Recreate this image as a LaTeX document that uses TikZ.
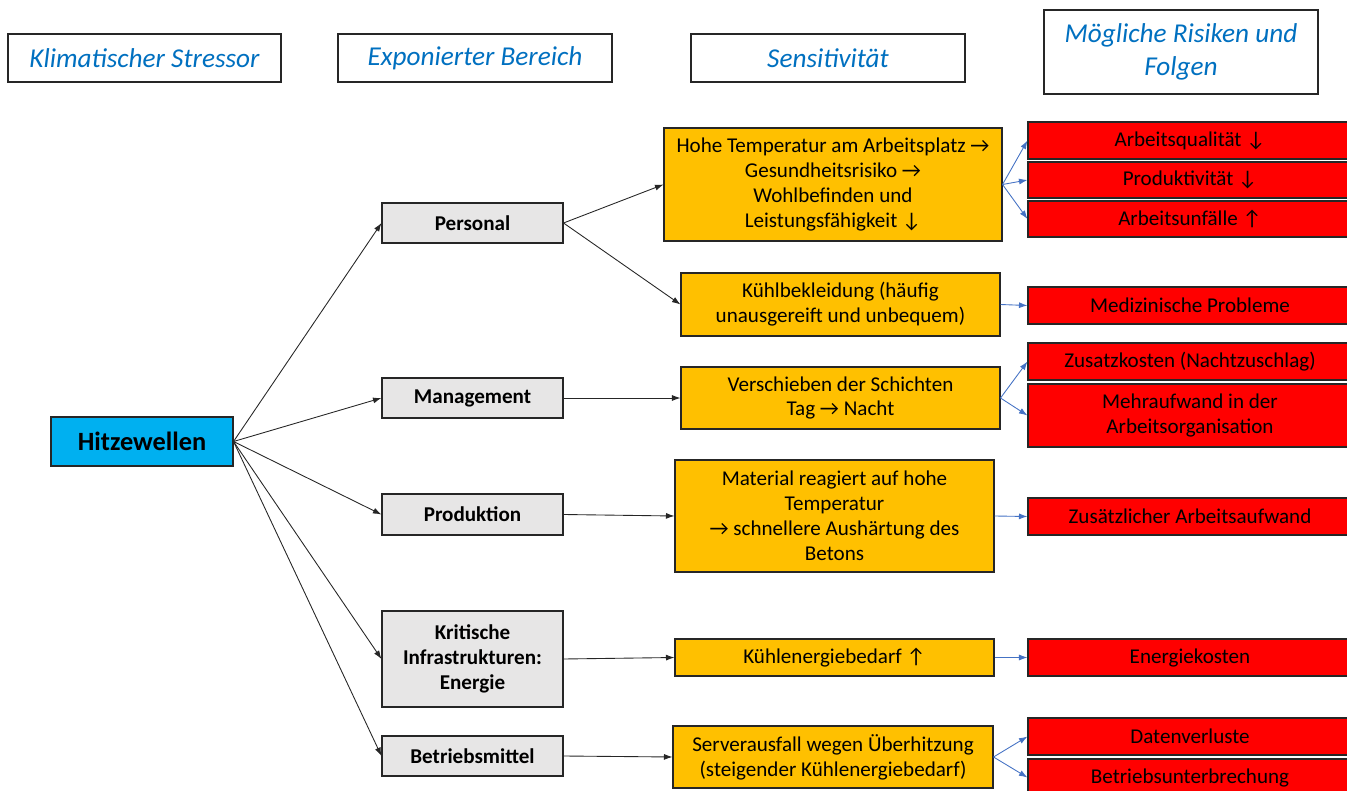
\documentclass[tikz,border=0pt]{standalone}
\usepackage{fontspec}
\setmainfont{Carlito}
\usetikzlibrary{arrows.meta}

\definecolor{kopfblau}{HTML}{0070C0}
\definecolor{hitze}{HTML}{00B0F0}
\definecolor{grau}{HTML}{E7E6E6}
\definecolor{orange}{HTML}{FFC000}
\definecolor{rot}{HTML}{FF0000}
\definecolor{pfeilblau}{HTML}{4472C4}

\tikzset{
  bw/.style={minimum width=#1*0.02cm},
  bh/.style={minimum height=#1*0.02cm},
  kasten/.style={draw=black!85, line width=0.6pt, inner sep=0, align=center},
  kopf/.style={kasten, fill=white, text=kopfblau, font=\fontsize{15.5}{18.7}\selectfont\itshape},
  stressor/.style={kasten, fill=hitze, font=\fontsize{15}{18}\selectfont\bfseries},
  bereich/.style={kasten, fill=grau, font=\fontsize{12}{14.2}\selectfont\bfseries},
  sens/.style={kasten, fill=orange, font=\fontsize{12}{14.2}\selectfont},
  risiko/.style={kasten, fill=rot, font=\fontsize{12}{14.2}\selectfont},
  pfeil/.style={-{Latex[length=1.7mm,width=1.2mm]}, line width=0.5pt, black!85},
  bpfeil/.style={-{Latex[length=1.7mm,width=1.2mm]}, line width=0.5pt, pfeilblau}
}

\begin{document}
\begin{tikzpicture}[x=0.02cm,y=-0.02cm]

  \useasboundingbox (0,0) rectangle (1347,791);

  % Kopfzeile
  \node (k1) at (144.5,58) [kopf,bw=273,bh=48]{Klimatischer Stressor};
  \node (k2) at (475,58)   [kopf,bw=274,bh=48]{Exponierter Bereich};
  \node (k3) at (828,58)   [kopf,bw=274,bh=48]{Sensitivität};
  \node (k4) at (1181,52)  [kopf,bw=274,bh=84]{Mögliche Risiken und\\Folgen};

  \node (hz) at (142,441.5) [stressor,bw=182,bh=49]{Hitzewellen};

  % exponierte Bereiche
  \node (pers) at (472.5,223)   [bereich,bw=181,bh=40]{Personal};
  \node (man)  at (472.5,398)   [bereich,bw=181,bh=40]{Management};
  \node (prod) at (472.5,514.5) [bereich,bw=181,bh=41]{Produktion};
  \node (krit) at (472.5,659)   [bereich,bw=181,bh=96]{Kritische\\Infrastrukturen:\\Energie};
  \node (betr) at (472.5,756)   [bereich,bw=181,bh=40]{Betriebsmittel};

  % Sensitivitaet
  \node (o1) at (833,184.5) [sens,bw=338,bh=113]{Hohe Temperatur am Arbeitsplatz →\\Gesundheitsrisiko →\\Wohlbefinden und\\Leistungsfähigkeit ↓};
  \node (o2) at (840.5,304.5) [sens,bw=319,bh=63]{Kühlbekleidung (häufig\\unausgereift und unbequem)};
  \node (o3) at (840.5,398)   [sens,bw=319,bh=62]{Verschieben der Schichten\\Tag → Nacht};
  \node (o4) at (834.5,516)   [sens,bw=319,bh=112]{Material reagiert auf hohe\\Temperatur\\→ schnellere Aushärtung des\\Betons};
  \node (o5) at (834.5,657.5) [sens,bw=319,bh=37]{Kühlenergiebedarf ↑};
  \node (o6) at (833,757)     [sens,bw=320,bh=62]{Serverausfall wegen Überhitzung\\(steigender Kühlenergiebedarf)};

  % Risiken
  \node (r1)  at (1190,140.5) [risiko,bw=324,bh=37]{Arbeitsqualität ↓};
  \node (r2)  at (1190,180)   [risiko,bw=324,bh=36]{Produktivität ↓};
  \node (r3)  at (1190,219)   [risiko,bw=324,bh=36]{Arbeitsunfälle ↑};
  \node (r4)  at (1190,305.5) [risiko,bw=324,bh=37]{Medizinische Probleme};
  \node (r5)  at (1190,361.5) [risiko,bw=324,bh=37]{Zusatzkosten (Nachtzuschlag)};
  \node (r6)  at (1190,415.5) [risiko,bw=324,bh=63]{Mehraufwand in der\\Arbeitsorganisation};
  \node (r7)  at (1190,516.5) [risiko,bw=324,bh=37]{Zusätzlicher Arbeitsaufwand};
  \node (r8)  at (1190,657.5) [risiko,bw=324,bh=37]{Energiekosten};
  \node (r9)  at (1190,736.5) [risiko,bw=324,bh=37]{Datenverluste};
  \node (r10) at (1190,777.5) [risiko,bw=324,bh=37]{Betriebsunterbrechung};

  \foreach \z in {pers,man,prod,krit,betr}
    \draw[pfeil] (hz.east) -- (\z.west);

  \foreach \a/\b in {pers/o1,pers/o2,man/o3,prod/o4,krit/o5,betr/o6}
    \draw[pfeil] (\a.east) -- (\b.west);

  \foreach \a/\b in {o1/r1,o1/r2,o1/r3,o2/r4,o3/r5,o3/r6,o4/r7,o5/r8,o6/r9,o6/r10}
    \draw[bpfeil] (\a.east) -- (\b.west);

\end{tikzpicture}
\end{document}
